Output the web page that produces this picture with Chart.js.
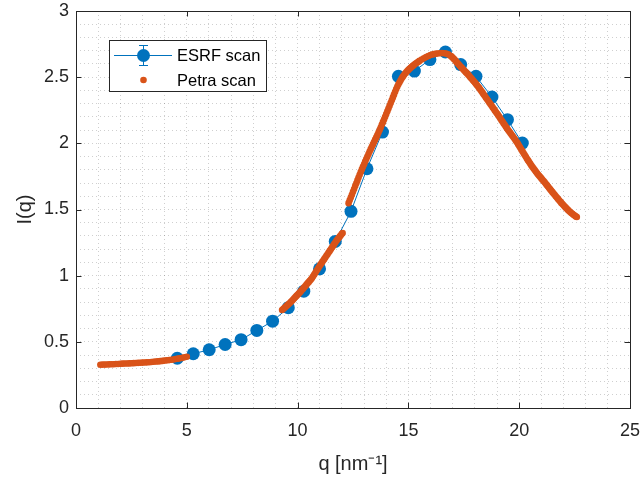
<!DOCTYPE html>
<html>
<head>
<meta charset="utf-8">
<title>I(q) scans</title>
<script src="https://cdn.jsdelivr.net/npm/chart.js@4/dist/chart.umd.min.js"></script>
<style>
  body { margin: 0; background: #fff; }
  canvas { display: block; }
</style>
</head>
<body>
<canvas id="chart" width="640" height="478"></canvas>
<script>
// ESRF scan: q [nm^-1] and intensity
const esrfQ = [4.57, 5.29, 6.01, 6.73, 7.45, 8.16, 8.87, 9.58, 10.28, 10.99, 11.70, 12.41,
  13.13, 13.83, 14.55, 15.27, 15.97, 16.67, 17.36, 18.05, 18.77, 19.47, 20.14];
const esrfI = [0.376, 0.410, 0.440, 0.480, 0.516, 0.586, 0.656, 0.758, 0.883, 1.052, 1.259, 1.486,
  1.808, 2.085, 2.506, 2.546, 2.633, 2.690, 2.595, 2.506, 2.350, 2.179, 2.002];

// Petra scan: three stretches of q (low q, rising edge, peak and tail)
const petraQ = [
  1.10, 1.20, 1.30, 1.40, 1.50, 1.60, 1.70, 1.80, 1.90, 2.00,
  2.10, 2.20, 2.30, 2.40, 2.50, 2.60, 2.70, 2.80, 2.90, 3.00,
  3.10, 3.20, 3.30, 3.40, 3.50, 3.60, 3.70, 3.80, 3.90, 4.00,
  4.10, 4.20, 4.30, 4.40, 4.50, 4.60, 4.70, 4.80, 4.90, 5.00,
  9.30, 9.35, 9.40, 9.45, 9.50, 9.55, 9.60, 9.65, 9.70, 9.75,
  9.80, 9.85, 9.90, 9.95, 10.00, 10.05, 10.10, 10.15, 10.20, 10.25,
  10.30, 10.35, 10.40, 10.45, 10.50, 10.55, 10.60, 10.65, 10.70, 10.75,
  10.80, 10.85, 10.90, 10.95, 11.00, 11.05, 11.10, 11.15, 11.20, 11.25,
  11.30, 11.35, 11.40, 11.45, 11.50, 11.55, 11.60, 11.65, 11.70, 11.75,
  11.80, 11.85, 11.90, 11.95, 12.00, 12.03,
  12.30, 12.35, 12.40, 12.45, 12.50, 12.55, 12.60, 12.65, 12.70, 12.75,
  12.80, 12.85, 12.90, 12.95, 13.00, 13.05, 13.10, 13.15, 13.20, 13.25,
  13.30, 13.35, 13.40, 13.45, 13.50, 13.55, 13.60, 13.65, 13.70, 13.75,
  13.80, 13.85, 13.90, 13.95, 14.00, 14.05, 14.10, 14.15, 14.20, 14.25,
  14.30, 14.35, 14.40, 14.45, 14.50, 14.55, 14.60, 14.65, 14.70, 14.75,
  14.80, 14.85, 14.90, 14.95, 15.00, 15.05, 15.10, 15.15, 15.20, 15.25,
  15.30, 15.35, 15.40, 15.45, 15.50, 15.60, 15.70, 15.80, 15.90, 16.00,
  16.10, 16.20, 16.30, 16.40, 16.50, 16.60, 16.70, 16.80, 16.90, 16.95,
  17.00, 17.05, 17.10, 17.15, 17.20, 17.25, 17.30, 17.35, 17.40, 17.45,
  17.50, 17.55, 17.60, 17.65, 17.70, 17.75, 17.80, 17.85, 17.90, 17.95,
  18.00, 18.05, 18.10, 18.15, 18.20, 18.25, 18.30, 18.35, 18.40, 18.45,
  18.50, 18.55, 18.60, 18.65, 18.70, 18.75, 18.80, 18.85, 18.90, 18.95,
  19.00, 19.05, 19.10, 19.15, 19.20, 19.25, 19.30, 19.35, 19.40, 19.45,
  19.50, 19.55, 19.60, 19.65, 19.70, 19.75, 19.80, 19.85, 19.90, 19.95,
  20.00, 20.05, 20.10, 20.15, 20.20, 20.25, 20.30, 20.35, 20.40, 20.45,
  20.50, 20.55, 20.60, 20.65, 20.70, 20.75, 20.80, 20.85, 20.90, 20.95,
  21.00, 21.05, 21.10, 21.15, 21.20, 21.25, 21.30, 21.35, 21.40, 21.45,
  21.50, 21.55, 21.60, 21.65, 21.70, 21.75, 21.80, 21.85, 21.90, 21.95,
  22.00, 22.05, 22.10, 22.15, 22.20, 22.25, 22.30, 22.35, 22.40, 22.45,
  22.50, 22.55, 22.60
];
const petraI = [
  0.327, 0.328, 0.328, 0.329, 0.330, 0.331, 0.331, 0.332, 0.333, 0.334,
  0.335, 0.336, 0.336, 0.337, 0.338, 0.339, 0.340, 0.341, 0.342, 0.343,
  0.344, 0.345, 0.346, 0.348, 0.349, 0.351, 0.352, 0.354, 0.356, 0.358,
  0.360, 0.362, 0.365, 0.367, 0.370, 0.373, 0.376, 0.379, 0.383, 0.387,
  0.740, 0.748, 0.755, 0.763, 0.771, 0.778, 0.786, 0.793, 0.802, 0.811,
  0.820, 0.829, 0.838, 0.847, 0.855, 0.864, 0.873, 0.883, 0.893, 0.902,
  0.912, 0.922, 0.932, 0.942, 0.951, 0.961, 0.971, 0.982, 0.995, 1.009,
  1.022, 1.035, 1.048, 1.061, 1.074, 1.087, 1.100, 1.112, 1.125, 1.137,
  1.150, 1.162, 1.175, 1.187, 1.200, 1.213, 1.225, 1.238, 1.251, 1.263,
  1.274, 1.285, 1.295, 1.305, 1.316, 1.322,
  1.548, 1.570, 1.591, 1.612, 1.634, 1.655, 1.677, 1.698, 1.720, 1.741,
  1.762, 1.783, 1.803, 1.823, 1.842, 1.862, 1.881, 1.900, 1.919, 1.938,
  1.956, 1.974, 1.992, 2.010, 2.028, 2.045, 2.063, 2.081, 2.100, 2.120,
  2.140, 2.160, 2.180, 2.200, 2.221, 2.242, 2.263, 2.284, 2.305, 2.326,
  2.347, 2.368, 2.389, 2.410, 2.429, 2.446, 2.462, 2.477, 2.491, 2.504,
  2.516, 2.527, 2.537, 2.546, 2.555, 2.563, 2.571, 2.578, 2.585, 2.592,
  2.599, 2.605, 2.611, 2.617, 2.623, 2.633, 2.643, 2.652, 2.660, 2.667,
  2.672, 2.676, 2.679, 2.681, 2.682, 2.681, 2.678, 2.672, 2.662, 2.655,
  2.647, 2.638, 2.629, 2.619, 2.609, 2.599, 2.590, 2.581, 2.572, 2.563,
  2.554, 2.545, 2.536, 2.527, 2.518, 2.508, 2.498, 2.489, 2.479, 2.469,
  2.459, 2.449, 2.439, 2.428, 2.417, 2.405, 2.393, 2.381, 2.369, 2.357,
  2.345, 2.333, 2.321, 2.309, 2.297, 2.285, 2.273, 2.261, 2.249, 2.237,
  2.225, 2.213, 2.200, 2.188, 2.175, 2.163, 2.150, 2.138, 2.125, 2.113,
  2.100, 2.089, 2.078, 2.067, 2.055, 2.044, 2.032, 2.020, 2.008, 1.994,
  1.980, 1.966, 1.952, 1.939, 1.925, 1.911, 1.898, 1.884, 1.871, 1.858,
  1.845, 1.833, 1.821, 1.809, 1.798, 1.787, 1.776, 1.765, 1.755, 1.745,
  1.735, 1.725, 1.715, 1.705, 1.694, 1.684, 1.673, 1.663, 1.652, 1.642,
  1.631, 1.621, 1.611, 1.600, 1.590, 1.580, 1.570, 1.560, 1.550, 1.541,
  1.532, 1.523, 1.514, 1.505, 1.497, 1.489, 1.481, 1.474, 1.467, 1.460,
  1.454, 1.448, 1.443
];

const xMajorTicks = [0, 5, 10, 15, 20, 25];
const yMajorTicks = [0, 0.5, 1, 1.5, 2, 2.5, 3];

const axisColor = '#262626';
const gridColor = 'rgba(38, 38, 38, 0.22)';
const fontFamily = '"Liberation Sans", Arial, Helvetica, sans-serif';

const toPoints = (xs, ys) => xs.map((x, i) => ({ x: x, y: ys[i] }));
const inList = (list, v) => list.some(t => Math.abs(t - v) < 1e-6);

// axes box with inward tick marks on all four sides
const boxTicks = {
  id: 'boxTicks',
  afterDatasetsDraw(chart) {
    const { ctx, chartArea: a, scales } = chart;
    const len = 5.5;
    ctx.save();
    ctx.strokeStyle = axisColor;
    ctx.lineWidth = 1;
    ctx.beginPath();
    xMajorTicks.forEach(t => {
      const px = Math.round(scales.x.getPixelForValue(t)) + 0.5;
      ctx.moveTo(px, a.bottom); ctx.lineTo(px, a.bottom - len);
      ctx.moveTo(px, a.top); ctx.lineTo(px, a.top + len);
    });
    yMajorTicks.forEach(t => {
      const py = Math.round(scales.y.getPixelForValue(t)) + 0.5;
      ctx.moveTo(a.left, py); ctx.lineTo(a.left + len, py);
      ctx.moveTo(a.right, py); ctx.lineTo(a.right - len, py);
    });
    ctx.stroke();
    ctx.strokeRect(Math.round(a.left) + 0.5, Math.round(a.top) + 0.5,
      Math.round(a.right - a.left), Math.round(a.bottom - a.top));
    ctx.restore();
  }
};

// legend box in the upper left of the axes
const insideLegend = {
  id: 'insideLegend',
  afterDraw(chart) {
    const ctx = chart.ctx;
    const [esrf, petra] = chart.data.datasets;
    const left = 109.5, top = 40.5, w = 157, h = 51;
    const symX = 143, textX = 177, row1 = 55, row2 = 80;
    ctx.save();
    ctx.fillStyle = '#fff';
    ctx.fillRect(left, top, w, h);
    ctx.strokeStyle = axisColor;
    ctx.lineWidth = 1;
    ctx.strokeRect(left, top, w, h);

    ctx.strokeStyle = esrf.borderColor;
    ctx.beginPath();
    ctx.moveTo(114, row1 + 0.5); ctx.lineTo(172, row1 + 0.5);
    ctx.moveTo(symX + 0.5, row1 - 10); ctx.lineTo(symX + 0.5, row1 + 10);
    ctx.moveTo(symX - 4, row1 - 9.5); ctx.lineTo(symX + 5, row1 - 9.5);
    ctx.moveTo(symX - 4, row1 + 10.5); ctx.lineTo(symX + 5, row1 + 10.5);
    ctx.stroke();
    ctx.fillStyle = esrf.pointBackgroundColor;
    ctx.beginPath();
    ctx.arc(symX + 0.5, row1 + 0.5, esrf.pointRadius, 0, Math.PI * 2);
    ctx.fill();

    ctx.fillStyle = petra.pointBackgroundColor;
    ctx.beginPath();
    ctx.arc(symX + 0.5, row2, petra.pointRadius, 0, Math.PI * 2);
    ctx.fill();

    ctx.fillStyle = '#000';
    ctx.font = '16.5px ' + fontFamily;
    ctx.textBaseline = 'middle';
    ctx.fillText(esrf.label, textX, row1 + 1);
    ctx.fillText(petra.label, textX, row2 + 1);
    ctx.restore();
  }
};

new Chart(document.getElementById('chart'), {
  type: 'scatter',
  data: {
    datasets: [
      {
        label: 'ESRF scan',
        data: toPoints(esrfQ, esrfI),
        showLine: true,
        borderColor: '#0072BD',
        borderWidth: 1,
        pointRadius: 6.5,
        pointBackgroundColor: '#0072BD',
        pointBorderWidth: 0,
        order: 1,
      },
      {
        label: 'Petra scan',
        data: toPoints(petraQ, petraI),
        showLine: false,
        pointRadius: 3.3,
        pointBackgroundColor: '#D95319',
        pointBorderWidth: 0,
        order: 0,
      },
    ],
  },
  options: {
    responsive: false,
    animation: false,
    devicePixelRatio: 1,
    layout: { padding: { top: 11, right: 10, left: 0, bottom: 0 } },
    plugins: {
      legend: { display: false },
      tooltip: { enabled: false },
    },
    scales: {
      x: {
        type: 'linear',
        min: 0,
        max: 25,
        afterFit: scale => {
          // fixed band under the axes; label overhang is covered by layout padding
          scale.height = 70;
          scale.paddingLeft = 0;
          scale.paddingRight = 0;
        },
        ticks: {
          stepSize: 1,
          autoSkip: false,
          maxRotation: 0,
          padding: 12,
          color: axisColor,
          font: { family: fontFamily, size: 18 },
          callback: v => (inList(xMajorTicks, v) ? String(v) : ''),
        },
        grid: { color: gridColor, drawTicks: false, lineWidth: 1 },
        border: { display: false, dash: [1, 3] },
        title: {
          display: true,
          text: 'q [nm\u207B\u00B9]',
          color: axisColor,
          font: { family: fontFamily, size: 20, lineHeight: 1.2 },
          padding: { top: 0, bottom: 2 },
        },
      },
      y: {
        type: 'linear',
        min: 0,
        max: 3,
        afterFit: scale => {
          scale.width = 76;
          scale.paddingTop = 0;
          scale.paddingBottom = 0;
        },
        ticks: {
          stepSize: 0.1,
          autoSkip: false,
          padding: 7,
          color: axisColor,
          font: { family: fontFamily, size: 18 },
          callback: v => (inList(yMajorTicks, v) ? String(Math.round(v * 10) / 10) : ''),
        },
        grid: { color: gridColor, drawTicks: false, lineWidth: 1 },
        border: { display: false, dash: [1, 3] },
        title: {
          display: true,
          text: 'I(q)',
          color: axisColor,
          font: { family: fontFamily, size: 20, lineHeight: 1.2 },
          padding: { top: 13, bottom: 0 },
        },
      },
    },
  },
  plugins: [boxTicks, insideLegend],
});
</script>
</body>
</html>
